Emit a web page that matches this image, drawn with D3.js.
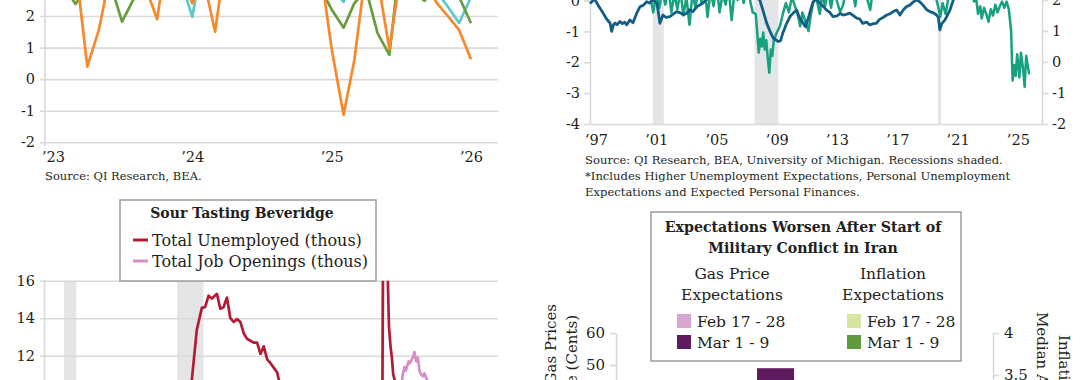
<!DOCTYPE html>
<html><head><meta charset="utf-8">
<script src="https://cdn.jsdelivr.net/npm/d3@7"></script>
<style>
html,body{margin:0;padding:0;background:#fff;overflow:hidden;}
svg{display:block;}
</style></head><body>
<svg id="c" width="1080" height="380"></svg>
<script>
// ---------------- DATA ----------------
// Panel 1 (top-left)
const p1Months = ["2023-01","2023-02","2023-03","2023-04","2023-05","2023-06","2023-07","2023-08","2023-09","2023-10","2023-11","2023-12",
  "2024-01","2024-02","2024-03","2024-04","2024-05","2024-06","2024-07","2024-08","2024-09","2024-10","2024-11","2024-12",
  "2025-01","2025-02","2025-03","2025-04","2025-05","2025-06","2025-07","2025-08","2025-09","2025-10","2025-11","2025-12","2026-01"];
const p1Orange = [4.0,3.2,3.6,0.4,1.55,3.4,3.8,3.1,2.9,1.9,4.4,3.5,2.4,3.1,1.5,4.2,3.7,3.0,3.5,3.2,3.8,3.4,3.1,3.6,0.93,-1.13,0.6,3.5,3.2,0.95,3.4,3.0,3.3,2.45,2.0,1.55,0.63];
const p1Green  = [3.0,2.9,2.38,2.9,3.3,3.0,1.82,2.55,3.1,2.8,3.2,2.9,2.55,3.0,3.2,2.9,3.1,3.3,2.8,3.0,3.2,2.9,3.1,2.9,2.2,1.63,2.4,2.83,1.46,0.77,4.0,2.8,2.48,2.9,3.1,2.6,1.77];
const p1Cyan   = [3.4,3.1,3.3,3.6,3.2,3.5,3.0,3.3,3.4,3.1,3.6,3.2,1.97,4.0,3.3,3.1,3.5,3.2,3.0,3.4,3.6,3.1,3.3,3.5,2.9,2.45,3.1,3.4,3.2,3.0,3.5,3.1,3.3,2.8,2.3,1.78,2.6];
const p1YTicks = [-2,-1,0,1,2];
const p1XTicks = ["2023-01","2024-01","2025-01","2026-01"];
const p1XLabels = ["\u201923","\u201924","\u201925","\u201926"];
const p1Source = "Source: QI Research, BEA.";

// Panel 2 (top-right)
const p2BlueYears = [1997.0,1997.3,1997.6,1997.86,1998.1,1998.33,1998.44,1998.55,1998.66,1998.8,1998.99,1999.15,1999.3,1999.44,1999.55,1999.65,1999.85,2000.1,2000.32,2000.55,2000.76,2000.95,2001.18,2001.45,2001.64,2001.84,2002.05,2002.3,2002.5,2002.75,2003.0,2003.2,2003.42,2003.6,2003.83,2004.1,2004.5,2004.9,2005.5,2006.2,2006.9,2007.5,2008.0,2008.28,2008.5,2008.73,2008.95,2009.16,2009.35,2009.5,2009.65,2009.8,2010.0,2010.27,2010.5,2010.72,2010.9,2011.1,2011.3,2011.47,2011.65,2011.8,2012.04,2012.26,2012.5,2012.7,2012.9,2013.13,2013.4,2013.6,2013.8,2014.0,2014.25,2014.5,2014.7,2014.9,2015.1,2015.35,2015.58,2015.8,2016.0,2016.2,2016.45,2016.7,2016.95,2017.15,2017.35,2017.57,2017.8,2018.0,2018.23,2018.45,2018.68,2018.9,2019.1,2019.35,2019.56,2019.8,2020.0,2020.12,2020.22,2020.35,2020.56,2020.7,2020.89,2021.1,2021.4,2021.7];
const p2BlueVals  = [-0.1,0.05,-0.2,-0.4,-0.6,-0.73,-1.0,-0.8,-0.73,-0.78,-0.68,-0.75,-0.7,-0.79,-0.7,-0.63,-0.72,-0.41,-0.2,-0.15,-0.04,-0.08,0.02,-0.1,-0.74,-0.47,-0.55,-0.52,-0.45,-0.36,-0.4,-0.46,-0.41,-0.3,-0.36,-0.2,-0.08,0.1,0.25,0.3,0.2,0.3,0.15,0.0,-0.35,-0.74,-1.0,-1.22,-1.28,-1.33,-1.3,-1.05,-0.8,-0.52,-0.4,-0.31,-0.55,-0.7,-0.85,-0.6,-0.3,-0.05,0.05,-0.09,-0.2,-0.31,-0.38,-0.52,-0.5,-0.42,-0.47,-0.45,-0.41,-0.5,-0.57,-0.6,-0.74,-0.7,-0.79,-0.75,-0.74,-0.62,-0.55,-0.47,-0.42,-0.35,-0.31,-0.47,-0.3,-0.2,-0.15,-0.05,0.02,-0.05,-0.15,-0.3,-0.36,-0.4,-0.47,-0.55,-0.95,-0.75,-0.63,-0.5,-0.31,0.0,0.3,0.5];
const p2GreenYears = [1997.0,1998.0,1999.0,2000.0,2000.8,2001.0,2001.2,2001.4,2001.6,2001.8,2002.0,2002.2,2002.4,2002.6,2002.8,2003.0,2003.2,2003.4,2003.6,2003.8,2004.0,2004.2,2004.4,2004.6,2004.8,2005.0,2005.2,2005.4,2005.6,2005.8,2006.0,2006.2,2006.4,2006.6,2006.8,2007.0,2007.2,2007.4,2007.6,2007.8,2008.0,2008.1,2008.2,2008.3,2008.4,2008.5,2008.6,2008.7,2008.8,2008.9,2009.0,2009.1,2009.2,2009.4,2009.6,2009.8,2010.0,2010.2,2010.4,2010.6,2010.8,2010.95,2011.1,2011.3,2011.5,2011.65,2011.8,2012.0,2012.26,2012.4,2012.6,2012.8,2013.0,2013.2,2013.4,2013.6,2013.8,2014.0,2014.2,2014.4,2014.6,2014.8,2015.0,2015.3,2015.6,2015.8,2016.0,2016.5,2017.0,2017.5,2018.0,2018.5,2019.0,2019.5,2019.9,2020.1,2020.25,2020.4,2020.6,2020.8,2021.0,2021.5,2022.0,2022.3,2022.5,2022.6,2022.75,2022.9,2023.0,2023.15,2023.3,2023.45,2023.6,2023.75,2023.9,2024.05,2024.2,2024.35,2024.5,2024.65,2024.8,2024.95,2025.05,2025.15,2025.25,2025.35,2025.5,2025.6,2025.75,2025.85,2025.95,2026.05,2026.15];
const p2GreenVals  = [2.5,2.7,2.6,2.8,2.4,2.1,1.6,2.2,1.75,2.3,1.85,2.4,1.6,2.2,1.7,2.3,1.5,2.1,1.2,2.2,1.75,2.4,1.9,2.5,1.45,2.3,1.8,2.5,1.6,2.2,1.85,2.4,1.35,2.3,2.0,2.5,1.9,2.4,2.05,1.6,1.55,0.95,0.3,0.75,0.5,0.95,0.4,0.7,0.1,-0.35,0.4,0.2,0.7,0.95,1.15,1.55,1.9,1.6,2.1,1.8,1.5,1.15,1.6,1.3,1.0,1.5,1.9,2.1,1.55,2.2,1.8,2.3,1.75,2.4,1.95,1.6,1.85,2.3,2.05,2.5,1.8,2.4,2.6,2.2,1.68,2.4,2.7,2.4,2.6,2.5,2.7,2.6,2.5,2.4,2.2,1.8,1.45,1.9,1.55,2.1,2.4,2.7,2.6,2.2,1.95,2.2,1.55,1.8,1.4,1.75,1.55,1.3,1.7,1.5,1.85,1.6,1.8,1.95,1.75,1.95,1.7,1.0,-0.6,-0.1,-0.45,0.25,-0.5,0.3,-0.25,-0.8,0.2,-0.1,-0.4];
const p2Recessions = [[2001.17,2001.9],[2007.92,2009.5],[2020.1,2020.3]];
const p2LeftTicks = [-4,-3,-2,-1,0];
const p2RightTicks = [-2,-1,0,1,2];
const p2XTickYears = [1997,2001,2005,2009,2013,2017,2021,2025];
const p2XLabels = ["\u201997","\u201901","\u201905","\u201909","\u201913","\u201917","\u201921","\u201925"];
const p2Source = ["Source: QI Research, BEA, University of Michigan. Recessions shaded.",
  "*Includes Higher Unemployment Expectations, Personal Unemployment",
  "Expectations and Expected Personal Finances."];

// Panel 3 (bottom-left)
const p3RedYears = [2000.0,2001.0,2001.9,2003.5,2005.0,2007.0,2008.0,2008.5,2008.8,2009.1,2009.4,2009.6,2009.8,2010.0,2010.3,2010.5,2010.7,2010.9,2011.1,2011.3,2011.5,2011.7,2011.9,2012.1,2012.3,2012.5,2012.7,2012.9,2013.1,2013.3,2013.5,2013.7,2013.9,2014.0,2014.5,2015.0,2016.0,2017.0,2018.0,2019.0,2020.1,2020.17,2020.25,2020.33,2020.42,2020.5,2020.58,2020.67,2020.75,2020.83,2020.92,2021.0,2021.5,2022.0,2023.0,2024.0,2025.0,2026.0];
const p3RedVals  = [5.7,6.0,8.0,9.0,7.6,7.0,7.7,9.0,10.7,13.4,14.55,14.6,15.2,15.05,15.3,14.5,14.6,15.1,14.0,13.8,13.95,13.8,13.2,12.9,12.8,12.7,12.7,12.1,12.5,11.8,11.6,11.35,11.1,10.7,9.5,8.7,7.8,7.2,6.3,5.9,5.8,7.1,23.0,21.0,17.7,16.3,13.5,12.5,11.9,11.0,10.7,10.1,9.0,6.5,5.9,6.8,7.1,7.3];
const p3PinkYears = [2000.9,2002.0,2005.0,2007.0,2009.5,2012.0,2015.0,2018.5,2019.9,2020.3,2020.9,2021.25,2021.4,2021.5,2021.58,2021.75,2021.83,2022.0,2022.1,2022.2,2022.3,2022.4,2022.5,2022.6,2022.7,2022.85,2023.0,2023.3,2024.0,2025.0,2026.0];
const p3PinkVals  = [5.1,3.6,4.3,4.7,2.3,3.6,5.3,7.3,6.6,4.6,6.6,9.9,11.0,11.4,11.2,11.7,11.6,11.9,12.2,11.7,11.9,11.2,11.0,10.9,11.05,10.7,10.3,9.6,8.0,7.3,6.9];
const p3Recessions = [[2001.17,2001.9],[2007.92,2009.5],[2020.1,2020.3]];
const p3YTicks = [10,12,14,16];
const p3LegendTitle = "Sour Tasting Beveridge";
const p3Series = ["Total Unemployed (thous)","Total Job Openings (thous)"];

// Panel 4 (bottom-right)
const p4Groups = ["Gas Price Expectations","Inflation Expectations"];
const p4Periods = ["Feb 17 - 28","Mar 1 - 9"];
const p4Gas = [34, 49];
const p4Infl = [3.2, 3.4];
const p4LeftTicks = [0,10,20,30,40,50,60];
const p4RightTicks = [3,3.5,4];
const p4Title = ["Expectations Worsen After Start of","Military Conflict in Iran"];

// ---------------- DRAWING ----------------
const FONT = "'DejaVu Serif','Liberation Serif',serif";
const INK = "#231f20";
const GRID = "#d9d9d9";
const SHADE = "#e4e5e7";
const svg = d3.select("#c");
const parse = d3.timeParse("%Y-%m");

function styleText(sel, size, weight) {
  sel.attr("font-family", FONT).attr("font-size", size).attr("fill", INK);
  if (weight) sel.attr("font-weight", weight);
  return sel;
}
function grid(g, scale, x0, x1, ticks) {
  g.append("g").attr("transform", `translate(${x0},0)`)
    .call(d3.axisRight(scale).tickValues(ticks).tickSize(x1 - x0).tickFormat(""))
    .call(a => a.select(".domain").remove())
    .call(a => a.selectAll("line").attr("stroke", GRID).attr("stroke-width", 1.6));
}
function leftLabels(g, scale, x, ticks, size, fmt) {
  g.append("g").attr("transform", `translate(${x},0)`)
    .call(d3.axisLeft(scale).tickValues(ticks).tickSize(0).tickPadding(0).tickFormat(fmt || (d => String(d))))
    .call(a => a.select(".domain").remove())
    .call(a => styleText(a.selectAll("text"), size));
}

// ===== Panel 1 =====
{
  const g = svg.append("g");
  const x = d3.scaleTime().domain([parse("2023-01"), parse("2026-01")]).range([53, 471]);
  const y = d3.scaleLinear().domain([-2, 2]).range([142.3, 16]);
  grid(g, y, 40, 498, p1YTicks);
  g.append("line").attr("x1", 45).attr("x2", 45).attr("y1", 0).attr("y2", 146)
    .attr("stroke", GRID).attr("stroke-width", 1.6);
  leftLabels(g, y, 35, p1YTicks, 14.5);
  const xa = g.append("g").attr("transform", "translate(0,157)")
    .call(d3.axisBottom(x).tickValues(p1XTicks.map(parse)).tickSize(0).tickPadding(0)
      .tickFormat((d, i) => p1XLabels[i]));
  xa.select(".domain").remove();
  styleText(xa.selectAll("text").attr("dy", "0.35em"), 14.5);
  const line = (vals) => d3.line().x((d, i) => x(parse(p1Months[i]))).y(d => y(d))(vals);
  [[p1Cyan, "#5ec8cf"], [p1Green, "#699c3d"], [p1Orange, "#f7882b"]].forEach(([v, c]) => {
    g.append("path").attr("d", line(v)).attr("fill", "none").attr("stroke", c)
      .attr("stroke-width", 2.7).attr("stroke-linejoin", "round");
  });
  styleText(g.append("text").attr("x", 45).attr("y", 180).text(p1Source), 11.5);
}

// ===== Panel 2 =====
{
  const g = svg.append("g");
  const x = d3.scaleLinear().domain([1997, 2027]).range([590, 1042]);
  const yL = d3.scaleLinear().domain([-4, 0]).range([124, 0.5]);
  const yR = d3.scaleLinear().domain([-2, 2]).range([124, 0]);
  g.selectAll("rect.rec").data(p2Recessions).join("rect")
    .attr("x", d => x(d[0])).attr("width", d => x(d[1]) - x(d[0]))
    .attr("y", 0).attr("height", 124).attr("fill", SHADE);
  const la = g.append("g").attr("transform", "translate(590,0)")
    .call(d3.axisLeft(yL).tickValues(p2LeftTicks).tickSize(6).tickPadding(4).tickSizeOuter(0).tickFormat(d => String(d)));
  la.select(".domain").attr("stroke", GRID).attr("stroke-width", 1.6);
  la.selectAll("line").attr("stroke", GRID).attr("stroke-width", 1.6);
  styleText(la.selectAll("text"), 14.5);
  const ra = g.append("g").attr("transform", "translate(1042,0)")
    .call(d3.axisRight(yR).tickValues(p2RightTicks).tickSize(6).tickPadding(4).tickSizeOuter(0).tickFormat(d => String(d)));
  ra.select(".domain").attr("stroke", GRID).attr("stroke-width", 1.6);
  ra.selectAll("line").attr("stroke", GRID).attr("stroke-width", 1.6);
  styleText(ra.selectAll("text"), 14.5);
  const ba = g.append("g").attr("transform", "translate(0,124)")
    .call(d3.axisBottom(x).tickValues(p2XTickYears).tickSize(0).tickPadding(0).tickSizeOuter(0)
      .tickFormat((d, i) => p2XLabels[i]));
  ba.select(".domain").attr("stroke", GRID).attr("stroke-width", 1.6);
  ba.selectAll("text").attr("dy", "0.35em").attr("transform", "translate(6,16)");
  styleText(ba.selectAll("text"), 14.5);
  const gl = d3.line().x((d, i) => x(p2GreenYears[i])).y(d => yR(d));
  const bl = d3.line().x((d, i) => x(p2BlueYears[i])).y(d => yL(d));
  g.append("path").attr("d", gl(p2GreenVals)).attr("fill", "none").attr("stroke", "#17a17f")
    .attr("stroke-width", 2.5).attr("stroke-linejoin", "round");
  g.append("path").attr("d", bl(p2BlueVals)).attr("fill", "none").attr("stroke", "#145d86")
    .attr("stroke-width", 2.8).attr("stroke-linejoin", "round");
  p2Source.forEach((t, i) => styleText(g.append("text").attr("x", 585).attr("y", 164 + i * 16).text(t), 11.6));
}

// ===== Panel 3 =====
{
  const g = svg.append("g");
  const x = d3.scaleLinear().domain([2000, 2027]).range([44.5, 496.5]);
  const y = d3.scaleLinear().domain([10, 16]).range([393.2, 280.7]);
  svg.append("defs").append("clipPath").attr("id", "clip3")
    .append("rect").attr("x", 44.5).attr("y", 280.7).attr("width", 460).attr("height", 120);
  g.selectAll("rect.rec").data(p3Recessions).join("rect")
    .attr("x", d => x(d[0])).attr("width", d => x(d[1]) - x(d[0]))
    .attr("y", 280.7).attr("height", 120).attr("fill", SHADE);
  grid(g, y, 40, 498, p3YTicks);
  g.append("line").attr("x1", 44.5).attr("x2", 44.5).attr("y1", 280).attr("y2", 380)
    .attr("stroke", GRID).attr("stroke-width", 1.6);
  leftLabels(g, y, 35, p3YTicks, 14.5);
  const pl = d3.line().x((d, i) => x(p3PinkYears[i])).y(d => y(d));
  const rl = d3.line().x((d, i) => x(p3RedYears[i])).y(d => y(d));
  const cg = g.append("g").attr("clip-path", "url(#clip3)");
  cg.append("path").attr("d", pl(p3PinkVals)).attr("fill", "none").attr("stroke", "#d98dc6")
    .attr("stroke-width", 2.7).attr("stroke-linejoin", "round");
  cg.append("path").attr("d", rl(p3RedVals)).attr("fill", "none").attr("stroke", "#b31b34")
    .attr("stroke-width", 2.7).attr("stroke-linejoin", "round");
  const lg = svg.append("g");
  lg.append("rect").attr("x", 120).attr("y", 200).attr("width", 256).attr("height", 81)
    .attr("fill", "#fff").attr("stroke", "#9c9c9c").attr("stroke-width", 1.5);
  styleText(lg.append("text").attr("x", 242).attr("y", 218).attr("text-anchor", "middle").text(p3LegendTitle), 14, "bold");
  [["#b31b34", 240], ["#d98dc6", 261]].forEach(([c, yy], i) => {
    lg.append("line").attr("x1", 133).attr("x2", 148).attr("y1", yy).attr("y2", yy)
      .attr("stroke", c).attr("stroke-width", 3);
    styleText(lg.append("text").attr("x", 152).attr("y", yy + 6).text(p3Series[i]), 16);
  });
}

// ===== Panel 4 =====
{
  const g = svg.append("g");
  const yL = d3.scaleLinear().domain([0, 60]).range([525, 333]);
  const yR = d3.scaleLinear().domain([0, 4]).range([669, 333]);
  const x0 = d3.scaleBand().domain(p4Groups).range([616, 993]).paddingInner(0.22).paddingOuter(1.095);
  const x1 = d3.scaleBand().domain(p4Periods).range([0, x0.bandwidth()]).padding(0);
  const gasCol = ["#d9a6d0", "#5e1a5f"];
  const infCol = ["#d5e6a1", "#629b3f"];
  p4Periods.forEach((p, i) => {
    g.append("rect").attr("x", x0(p4Groups[0]) + x1(p)).attr("width", x1.bandwidth())
      .attr("y", yL(p4Gas[i])).attr("height", yL(0) - yL(p4Gas[i])).attr("fill", gasCol[i]);
    g.append("rect").attr("x", x0(p4Groups[1]) + x1(p)).attr("width", x1.bandwidth())
      .attr("y", yR(p4Infl[i])).attr("height", yR(0) - yR(p4Infl[i])).attr("fill", infCol[i]);
  });
  const la = g.append("g").attr("transform", "translate(616,0)")
    .call(d3.axisLeft(yL).tickValues(p4LeftTicks).tickSize(6).tickPadding(5).tickSizeOuter(0).tickFormat(d => String(d)));
  la.select(".domain").attr("stroke", GRID).attr("stroke-width", 1.6);
  la.selectAll("line").attr("stroke", GRID).attr("stroke-width", 1.6);
  styleText(la.selectAll("text"), 15);
  const ra = g.append("g").attr("transform", "translate(993,0)")
    .call(d3.axisRight(yR).tickValues(p4RightTicks).tickSize(6).tickPadding(5).tickSizeOuter(0).tickFormat(d => String(d)));
  ra.select(".domain").attr("stroke", GRID).attr("stroke-width", 1.6);
  ra.selectAll("line").attr("stroke", GRID).attr("stroke-width", 1.6);
  styleText(ra.selectAll("text"), 15);
  styleText(g.append("text").attr("transform", "translate(556,304) rotate(-90)").attr("text-anchor", "end")
    .text("Expected Change in Gas Prices"), 15);
  styleText(g.append("text").attr("transform", "translate(577,315) rotate(-90)").attr("text-anchor", "end")
    .text("Median Price Change (Cents)"), 15);
  styleText(g.append("text").attr("transform", "translate(1059,335) rotate(90)")
    .text("Inflation Expectations"), 15);
  styleText(g.append("text").attr("transform", "translate(1037,312) rotate(90)")
    .text("Median Annual Change (%)"), 15);
  const lg = svg.append("g");
  lg.append("rect").attr("x", 651).attr("y", 212).attr("width", 310).attr("height", 149)
    .attr("fill", "#fff").attr("stroke", "#9c9c9c").attr("stroke-width", 1.5);
  p4Title.forEach((t, i) => styleText(lg.append("text").attr("x", 803).attr("y", 232 + i * 21)
    .attr("text-anchor", "middle").text(t), 14.2, "bold"));
  const heads = [["Gas Price", "Expectations"], ["Inflation", "Expectations"]];
  [[732, 677, 697, gasCol], [893, 847, 867, infCol]].forEach(([cx, sx, tx, cols], k) => {
    heads[k].forEach((t, i) => styleText(lg.append("text").attr("x", cx).attr("y", 279 + i * 21)
      .attr("text-anchor", "middle").text(t), 15.5));
    p4Periods.forEach((p, i) => {
      lg.append("rect").attr("x", sx).attr("y", 314 + i * 21).attr("width", 14).attr("height", 14).attr("fill", cols[i]);
      styleText(lg.append("text").attr("x", tx).attr("y", 326.5 + i * 21).text(p), 15.5);
    });
  });
}
</script>
</body></html>
